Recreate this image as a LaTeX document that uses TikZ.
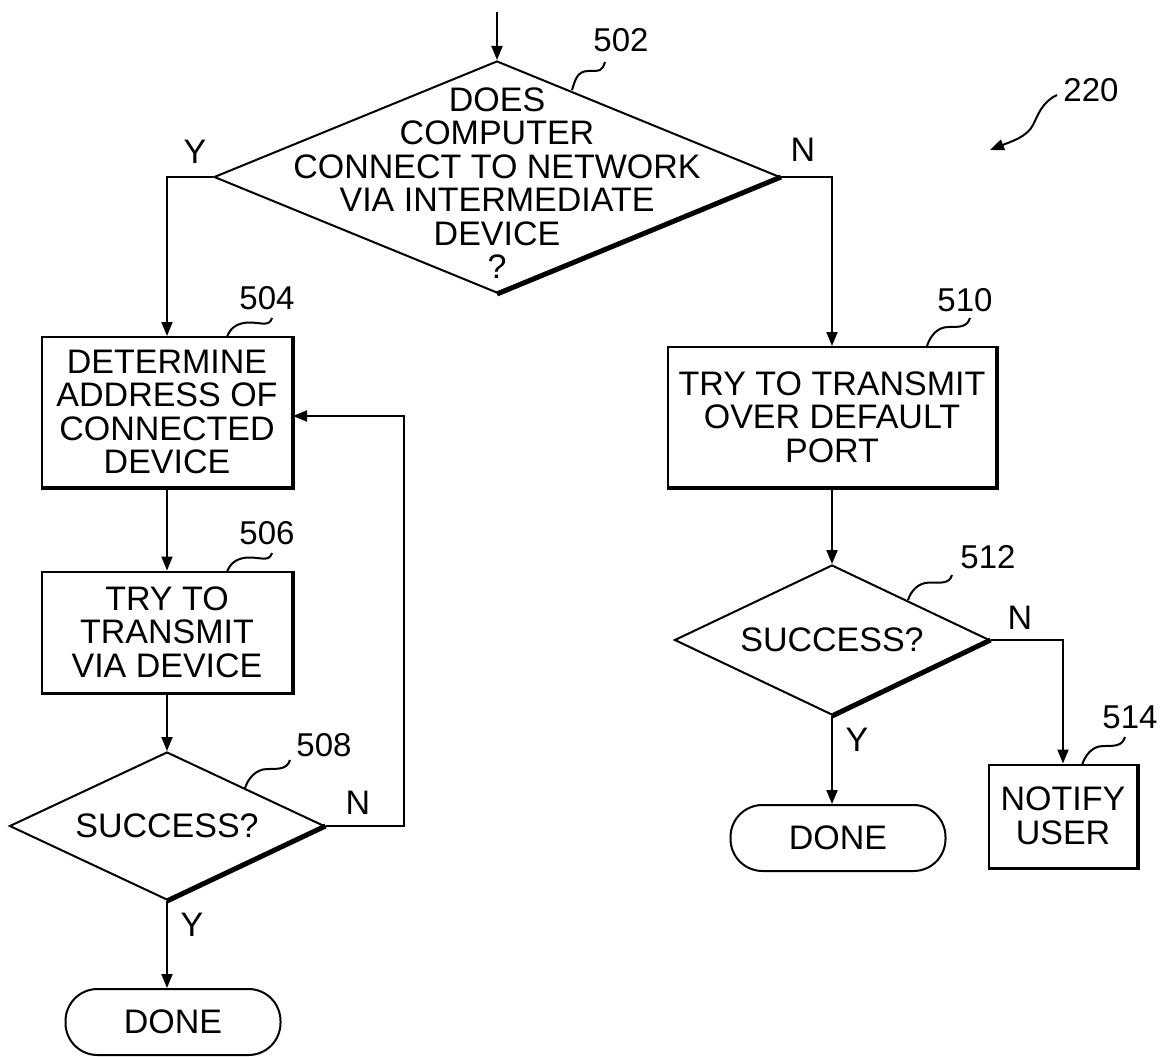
\documentclass[tikz,border=0pt]{standalone}
\usepackage{fontspec}
\setmainfont{Liberation Sans}
\usetikzlibrary{shapes.geometric, arrows.meta, calc}

\begin{document}
\begin{tikzpicture}[x = 1pt, y = -1pt, line width = 2pt,
		font = \fontsize{34}{33.5}\selectfont,
		>={Triangle[length = 14pt, width = 11pt]},
		stepbox/.style = {draw = black, align = center, inner sep = 0pt},
		decision/.style = {draw = black, shape = diamond, aspect = 2.1, inner sep = 0pt},
		terminal/.style = {draw = black, rounded corners = 32pt, minimum width = 215, minimum height = 66, inner sep = 0pt},
		shade edge/.style = {line width = 3.5pt},
		shade tip/.style = {line width = 5pt},
		refnum/.style = {font = \fontsize{33}{33}\selectfont},
		leader/.style = {line width = 1.6pt, to path = {.. controls +(-3,9) and +(12,0) .. ($(\tikztostart)!.5!(\tikztotarget) + (0,-5)$) .. controls +(-12,0) and +(3,-9) .. (\tikztotarget)}}]
		\useasboundingbox (0,0) rectangle (1167,1057);
		
		\coordinate (start) at (497,12);
		\node [decision, minimum width = 566, minimum height = 232] (d502) at (497,177) {};
		\node [align = center] (q502) at (497,183) {DOES\\COMPUTER\\CONNECT TO NETWORK\\VIA INTERMEDIATE\\DEVICE\\?};
		
		\node [stepbox, minimum width = 250, minimum height = 150] (b504) at (167,412) {DETERMINE\\ADDRESS OF\\CONNECTED\\DEVICE};
		\node [stepbox, minimum width = 250, minimum height = 121] (b506) at (167,632) {TRY TO\\TRANSMIT\\VIA DEVICE};
		\node [decision, minimum width = 315, minimum height = 148] (d508) at (167,826) {SUCCESS?};
		\node [terminal] (e508) at (173,1022) {DONE};
		
		\node [stepbox, minimum width = 328, minimum height = 140] (b510) at (832,417) {TRY TO TRANSMIT\\OVER DEFAULT\\PORT};
		\node [decision, minimum width = 315, minimum height = 150] (d512) at (832,640) {SUCCESS?};
		\node [terminal] (e512) at (838,838) {DONE};
		\node [stepbox, minimum width = 148, minimum height = 103] (b514) at (1063,816) {NOTIFY\\USER};
		
		\draw [->] (start) -- (d502.north);
		\draw [->] (d502.west) -| (b504.north);
		\draw [->] (d502.east) -| (b510.north);
		\draw [->] (b504) -- (b506);
		\draw [->] (b506) -- (d508);
		\coordinate (loop) at (404,416);
		\draw [->] (d508.east) -| (loop) -- (b504.east |- loop);
		\draw [->] (d508.south) -- (d508.south |- e508.north);
		\draw [->] (b510) -- (d512);
		\draw [->] (d512.east) -| (b514.north);
		\draw [->] (d512.south) -- (d512.south |- e512.north);
		
		\draw [shade tip] (d502.east) -- (d502.south);
		\draw [shade tip] (d508.east) -- (d508.south);
		\draw [shade tip] (d512.east) -- (d512.south);
		\draw [shade edge] (b504.north east) -- (b504.south east) -- (b504.south west);
		\draw [shade edge] (b506.north east) -- (b506.south east) -- (b506.south west);
		\draw [shade edge] (b510.north east) -- (b510.south east) -- (b510.south west);
		\draw [shade edge] (b514.north east) -- (b514.south east) -- (b514.south west);
		
		\node (y502) at (195,152) {Y};
		\node (n502) at (803,150) {N};
		\node (n508) at (358,803) {N};
		\node (y508) at (192,925) {Y};
		\node (n512) at (1020,618) {N};
		\node (y512) at (857,740) {Y};
		
		\node [refnum] (r502) at (621,40) {502};
		\node [refnum] (r504) at (267,298) {504};
		\node [refnum] (r506) at (267,533) {506};
		\node [refnum] (r508) at (324,745) {508};
		\node [refnum] (r510) at (965,300) {510};
		\node [refnum] (r512) at (988,557) {512};
		\node [refnum] (r514) at (1130,717) {514};
		\node [refnum] (r220) at (1091,90) {220};
		
		\coordinate (s502) at (605,62);
		\coordinate (t502) at (572,90);
		\coordinate (s504) at (272,318);
		\coordinate (t504) at (227,337);
		\coordinate (s506) at (272,553);
		\coordinate (t506) at (227,572);
		\coordinate (s508) at (290,760);
		\coordinate (t508) at (245,788);
		\coordinate (s510) at (970,318);
		\coordinate (t510) at (927,346);
		\coordinate (s512) at (952,575);
		\coordinate (t512) at (908,600);
		\coordinate (s514) at (1125,737);
		\coordinate (t514) at (1082,765);
		\draw (s502) to [leader] (t502);
		\draw (s504) to [leader] (t504);
		\draw (s506) to [leader] (t506);
		\draw (s508) to [leader] (t508);
		\draw (s510) to [leader] (t510);
		\draw (s512) to [leader] (t512);
		\draw (s514) to [leader] (t514);
		
		\coordinate (s220) at (1057,95);
		\coordinate (t220) at (990,150);
		\draw [->] (s220) .. controls (1042,102) and (1038,115) .. (1033,125) .. controls (1027,137) and (1010,142) .. (t220);
\end{tikzpicture}
\end{document}
